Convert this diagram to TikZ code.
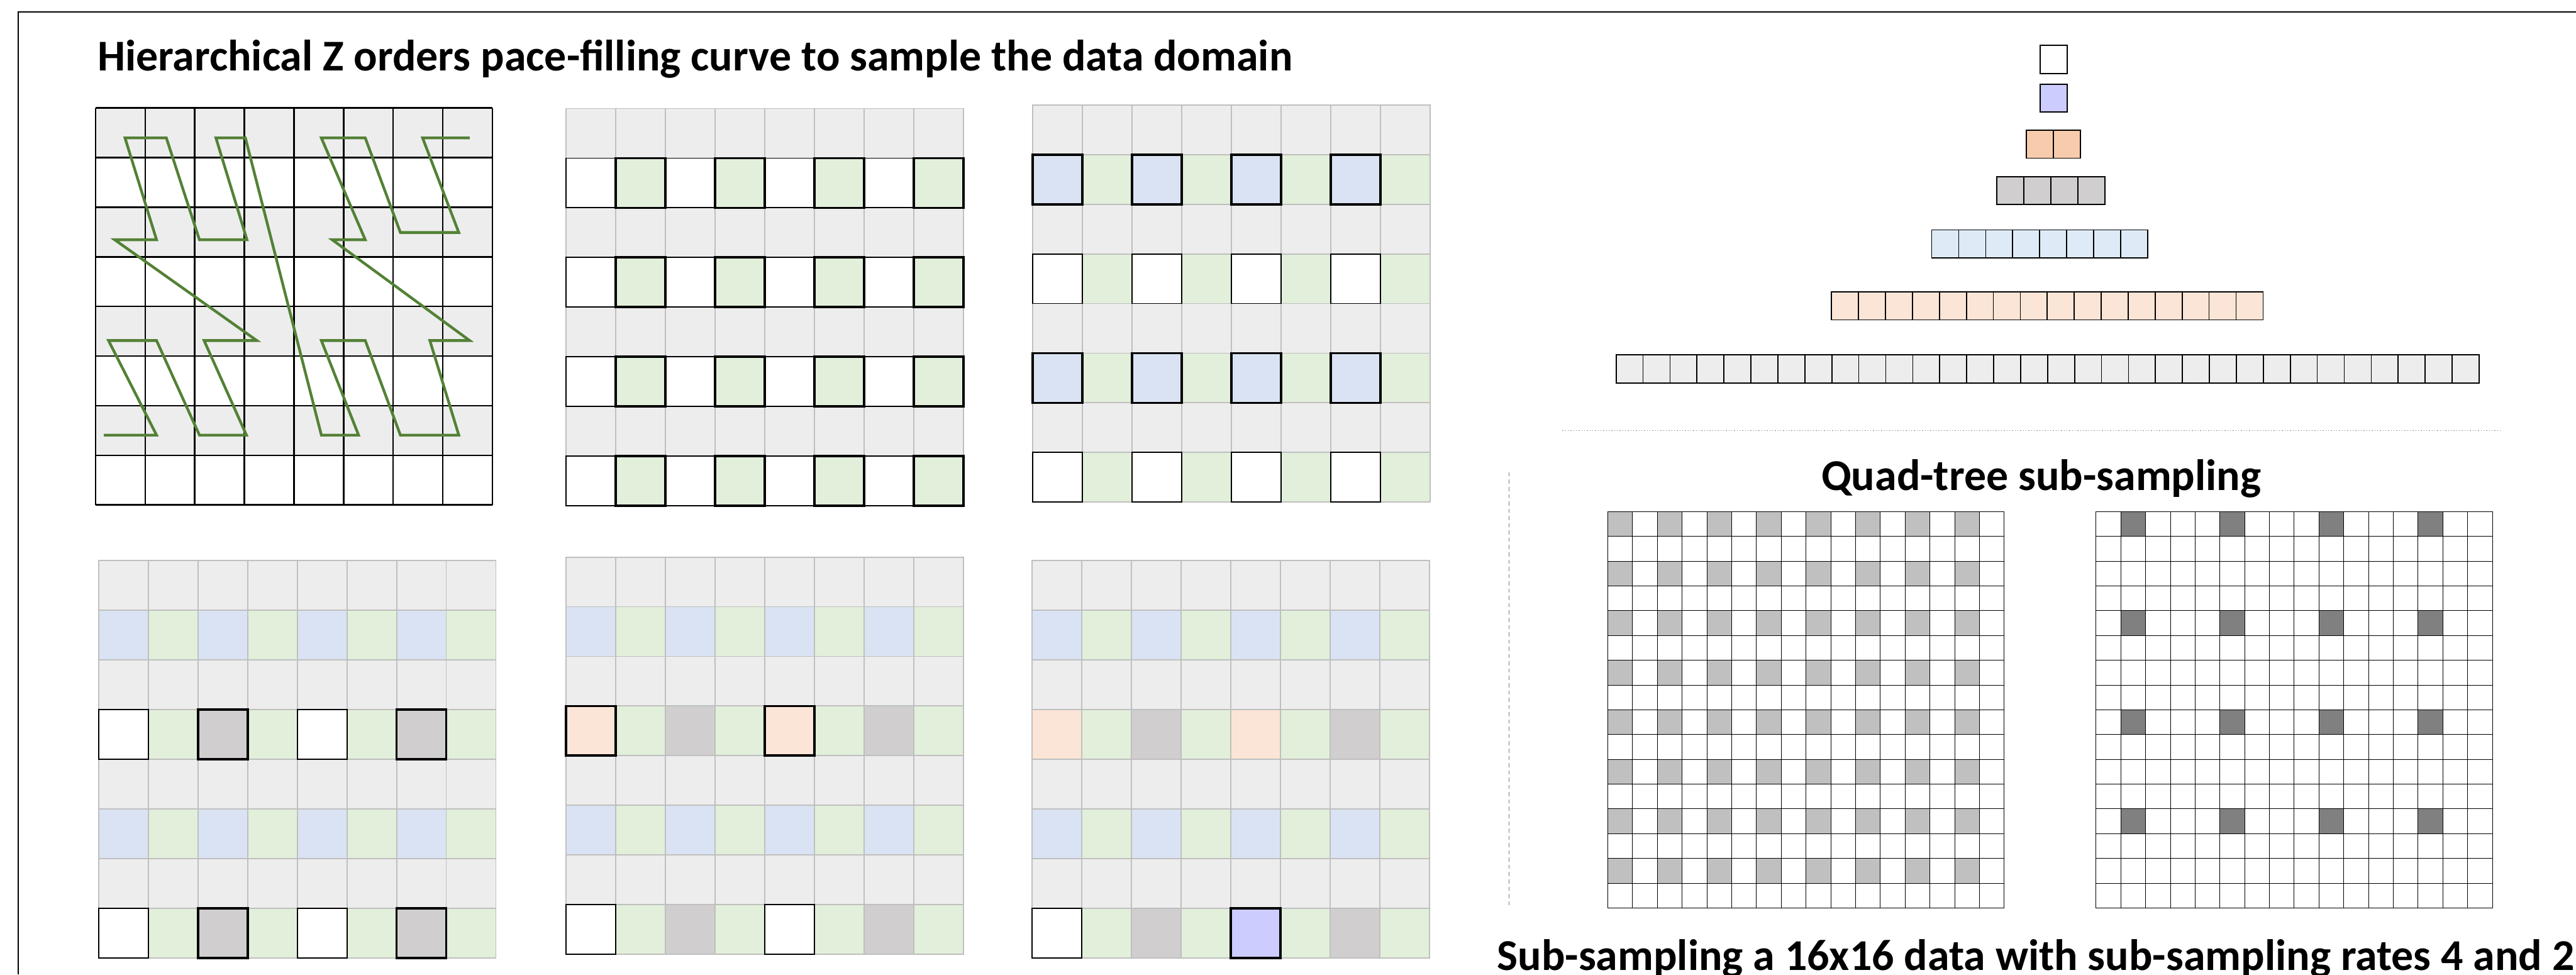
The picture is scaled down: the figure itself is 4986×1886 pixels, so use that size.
\documentclass[tikz,border=0pt]{standalone}
\usepackage{fontspec}
\setmainfont{Carlito}
\begin{document}
\begin{tikzpicture}[x=0.01cm, y=-0.01cm,
  frameline/.style={draw=black, line width=0.8pt},
  zline/.style={draw=black, line width=0.85pt},
  zcurve/.style={draw=zgreen, line width=1.5pt},
  cellline/.style={draw=lightline, line width=0.65pt},
  thinbox/.style={draw=black, line width=0.65pt},
  thickbox/.style={draw=black, line width=1.3pt},
  barcell/.style={draw=black, line width=0.6pt},
  qcell/.style={draw=black, line width=0.35pt},
  headline/.style={font=\fontsize{24.2}{29}\selectfont\bfseries, inner sep=0pt}]
\useasboundingbox (0,0) rectangle (4986,1886);
\definecolor{zg}{HTML}{EDEDED}
\definecolor{zgr}{HTML}{E2EFDA}
\definecolor{zb}{HTML}{DAE3F3}
\definecolor{zd}{HTML}{D0CECE}
\definecolor{zo}{HTML}{FBE5D6}
\definecolor{zl}{HTML}{CCCCFF}
\definecolor{zpeach}{HTML}{F8CBAD}
\definecolor{zsky}{HTML}{DEEBF7}
\definecolor{zgreen}{HTML}{538135}
\definecolor{lightline}{HTML}{BFBFBF}
\definecolor{qlight}{HTML}{C0C0C0}
\definecolor{qdark}{HTML}{808080}
\definecolor{sepline}{HTML}{7F7F7F}

% frame
\draw[frameline] (35,1886) -- (35,23) -- (4986,23);
\node[headline, anchor=base west] (ztitle) at (188,137) {Hierarchical Z orders pace-filling curve to sample the data domain};

% z-order curve on the full grid
\foreach \ri in {0,2,4,6} \fill[zg] (185,209+\ri*96) rectangle ++(768,96);
\foreach \i in {0,...,8} {
  \draw[zline] (185+\i*96,209) -- ++(0,768);
  \draw[zline] (185,209+\i*96) -- ++(768,0);
}
\draw[zcurve] (201,842) -- (303,842) -- (210,659) -- (303,659) -- (386,842) -- (477,842) -- (395,659) -- (497,659)
  -- (222,464) -- (303,464) -- (242,267) -- (322,267) -- (386,464) -- (478,464) -- (418,267) -- (475,267)
  -- (622,842) -- (694,842) -- (622,659) -- (707,659) -- (775,842) -- (888,842) -- (832,659) -- (909,659)
  -- (643,464) -- (707,464) -- (622,267) -- (707,267) -- (775,450) -- (888,450) -- (818,267) -- (909,267);

% level grids, top row
\foreach \rowlist [count=\ri from 0] in {
  {zg,zg,zg,zg,zg,zg,zg,zg}, {white,zgr,white,zgr,white,zgr,white,zgr},
  {zg,zg,zg,zg,zg,zg,zg,zg}, {white,zgr,white,zgr,white,zgr,white,zgr},
  {zg,zg,zg,zg,zg,zg,zg,zg}, {white,zgr,white,zgr,white,zgr,white,zgr},
  {zg,zg,zg,zg,zg,zg,zg,zg}, {white,zgr,white,zgr,white,zgr,white,zgr}}
{
  \foreach \cc [count=\ci from 0] in \rowlist
    \filldraw[cellline, fill=\cc] (1096+\ci*96.1,210+\ri*96.1) rectangle ++(96.1,96.1);
}
\foreach \ri in {1,3,5,7} {
  \foreach \ci in {0,2,4,6} \draw[thinbox] (1096+\ci*96.1,210+\ri*96.1) rectangle ++(96.1,96.1);
  \foreach \ci in {1,3,5,7} \draw[thickbox] (1096+\ci*96.1,210+\ri*96.1) rectangle ++(96.1,96.1);
}

\foreach \rowlist [count=\ri from 0] in {
  {zg,zg,zg,zg,zg,zg,zg,zg}, {zb,zgr,zb,zgr,zb,zgr,zb,zgr},
  {zg,zg,zg,zg,zg,zg,zg,zg}, {white,zgr,white,zgr,white,zgr,white,zgr},
  {zg,zg,zg,zg,zg,zg,zg,zg}, {zb,zgr,zb,zgr,zb,zgr,zb,zgr},
  {zg,zg,zg,zg,zg,zg,zg,zg}, {white,zgr,white,zgr,white,zgr,white,zgr}}
{
  \foreach \cc [count=\ci from 0] in \rowlist
    \filldraw[cellline, fill=\cc] (1999+\ci*96.1,203+\ri*96.1) rectangle ++(96.1,96.1);
}
\foreach \ci in {0,2,4,6} {
  \foreach \ri in {3,7} \draw[thinbox] (1999+\ci*96.1,203+\ri*96.1) rectangle ++(96.1,96.1);
  \foreach \ri in {1,5} \draw[thickbox] (1999+\ci*96.1,203+\ri*96.1) rectangle ++(96.1,96.1);
}

% level grids, bottom row
\foreach \rowlist [count=\ri from 0] in {
  {zg,zg,zg,zg,zg,zg,zg,zg}, {zb,zgr,zb,zgr,zb,zgr,zb,zgr},
  {zg,zg,zg,zg,zg,zg,zg,zg}, {white,zgr,zd,zgr,white,zgr,zd,zgr},
  {zg,zg,zg,zg,zg,zg,zg,zg}, {zb,zgr,zb,zgr,zb,zgr,zb,zgr},
  {zg,zg,zg,zg,zg,zg,zg,zg}, {white,zgr,zd,zgr,white,zgr,zd,zgr}}
{
  \foreach \cc [count=\ci from 0] in \rowlist
    \filldraw[cellline, fill=\cc] (191+\ci*96.1,1085+\ri*96.1) rectangle ++(96.1,96.1);
}
\foreach \ri in {3,7} {
  \foreach \ci in {0,4} \draw[thinbox] (191+\ci*96.1,1085+\ri*96.1) rectangle ++(96.1,96.1);
  \foreach \ci in {2,6} \draw[thickbox] (191+\ci*96.1,1085+\ri*96.1) rectangle ++(96.1,96.1);
}

\foreach \rowlist [count=\ri from 0] in {
  {zg,zg,zg,zg,zg,zg,zg,zg}, {zb,zgr,zb,zgr,zb,zgr,zb,zgr},
  {zg,zg,zg,zg,zg,zg,zg,zg}, {zo,zgr,zd,zgr,zo,zgr,zd,zgr},
  {zg,zg,zg,zg,zg,zg,zg,zg}, {zb,zgr,zb,zgr,zb,zgr,zb,zgr},
  {zg,zg,zg,zg,zg,zg,zg,zg}, {white,zgr,zd,zgr,white,zgr,zd,zgr}}
{
  \foreach \cc [count=\ci from 0] in \rowlist
    \filldraw[cellline, fill=\cc] (1096+\ci*96.1,1078+\ri*96.1) rectangle ++(96.1,96.1);
}
\foreach \ci in {0,4} {
  \draw[thickbox] (1096+\ci*96.1,1078+3*96.1) rectangle ++(96.1,96.1);
  \draw[thinbox] (1096+\ci*96.1,1078+7*96.1) rectangle ++(96.1,96.1);
}

\foreach \rowlist [count=\ri from 0] in {
  {zg,zg,zg,zg,zg,zg,zg,zg}, {zb,zgr,zb,zgr,zb,zgr,zb,zgr},
  {zg,zg,zg,zg,zg,zg,zg,zg}, {zo,zgr,zd,zgr,zo,zgr,zd,zgr},
  {zg,zg,zg,zg,zg,zg,zg,zg}, {zb,zgr,zb,zgr,zb,zgr,zb,zgr},
  {zg,zg,zg,zg,zg,zg,zg,zg}, {white,zgr,zd,zgr,zl,zgr,zd,zgr}}
{
  \foreach \cc [count=\ci from 0] in \rowlist
    \filldraw[cellline, fill=\cc] (1998+\ci*96.1,1085+\ri*96.1) rectangle ++(96.1,96.1);
}
\draw[thinbox] (1998,1085+7*96.1) rectangle ++(96.1,96.1);
\draw[thickbox] (1998+4*96.1,1085+7*96.1) rectangle ++(96.1,96.1);

% pyramid of levels
\foreach \n/\lx/\ty/\cc in {1/3949/88/white, 1/3949/163/zl, 2/3922/252/zpeach, 4/3865/342/zd,
  8/3739/445/zsky, 16/3545/565/zo, 32/3128/687/zg}
{
  \foreach \k in {1,...,\n}
    \filldraw[barcell, fill=\cc] (\lx+\k*52.2-52.2,\ty) rectangle ++(52.2,54);
}
\draw[sepline, line width=0.4pt, dash pattern=on 0.5pt off 1pt] (3024,833) -- (4839,833);
\draw[sepline, line width=0.4pt, dash pattern=on 2.3pt off 1.7pt] (2921,914) -- (2921,1752);

% quad-tree sub-sampling
\node[headline, anchor=base] (qtitle) at (3951,949) {Quad-tree sub-sampling};
\foreach \ri in {0,2,...,14} \foreach \ci in {0,2,...,14}
  \fill[qlight] (3112+\ci*47.95,990+\ri*47.95) rectangle ++(47.95,47.95);
\foreach \ri in {0,4,8,12} \foreach \ci in {1,5,9,13}
  \fill[qdark] (4057+\ci*47.95,990+\ri*47.95) rectangle ++(47.95,47.95);
\foreach \i in {0,...,16} {
  \draw[qcell] (3112+\i*47.95,990) -- ++(0,767.2);
  \draw[qcell] (3112,990+\i*47.95) -- ++(767.2,0);
  \draw[qcell] (4057+\i*47.95,990) -- ++(0,767.2);
  \draw[qcell] (4057,990+\i*47.95) -- ++(767.2,0);
}
\node[headline, anchor=base west] (qcaption) at (2897,1878) {Sub-sampling a 16x16 data with sub-sampling rates 4 and 2};
\end{tikzpicture}
\end{document}
